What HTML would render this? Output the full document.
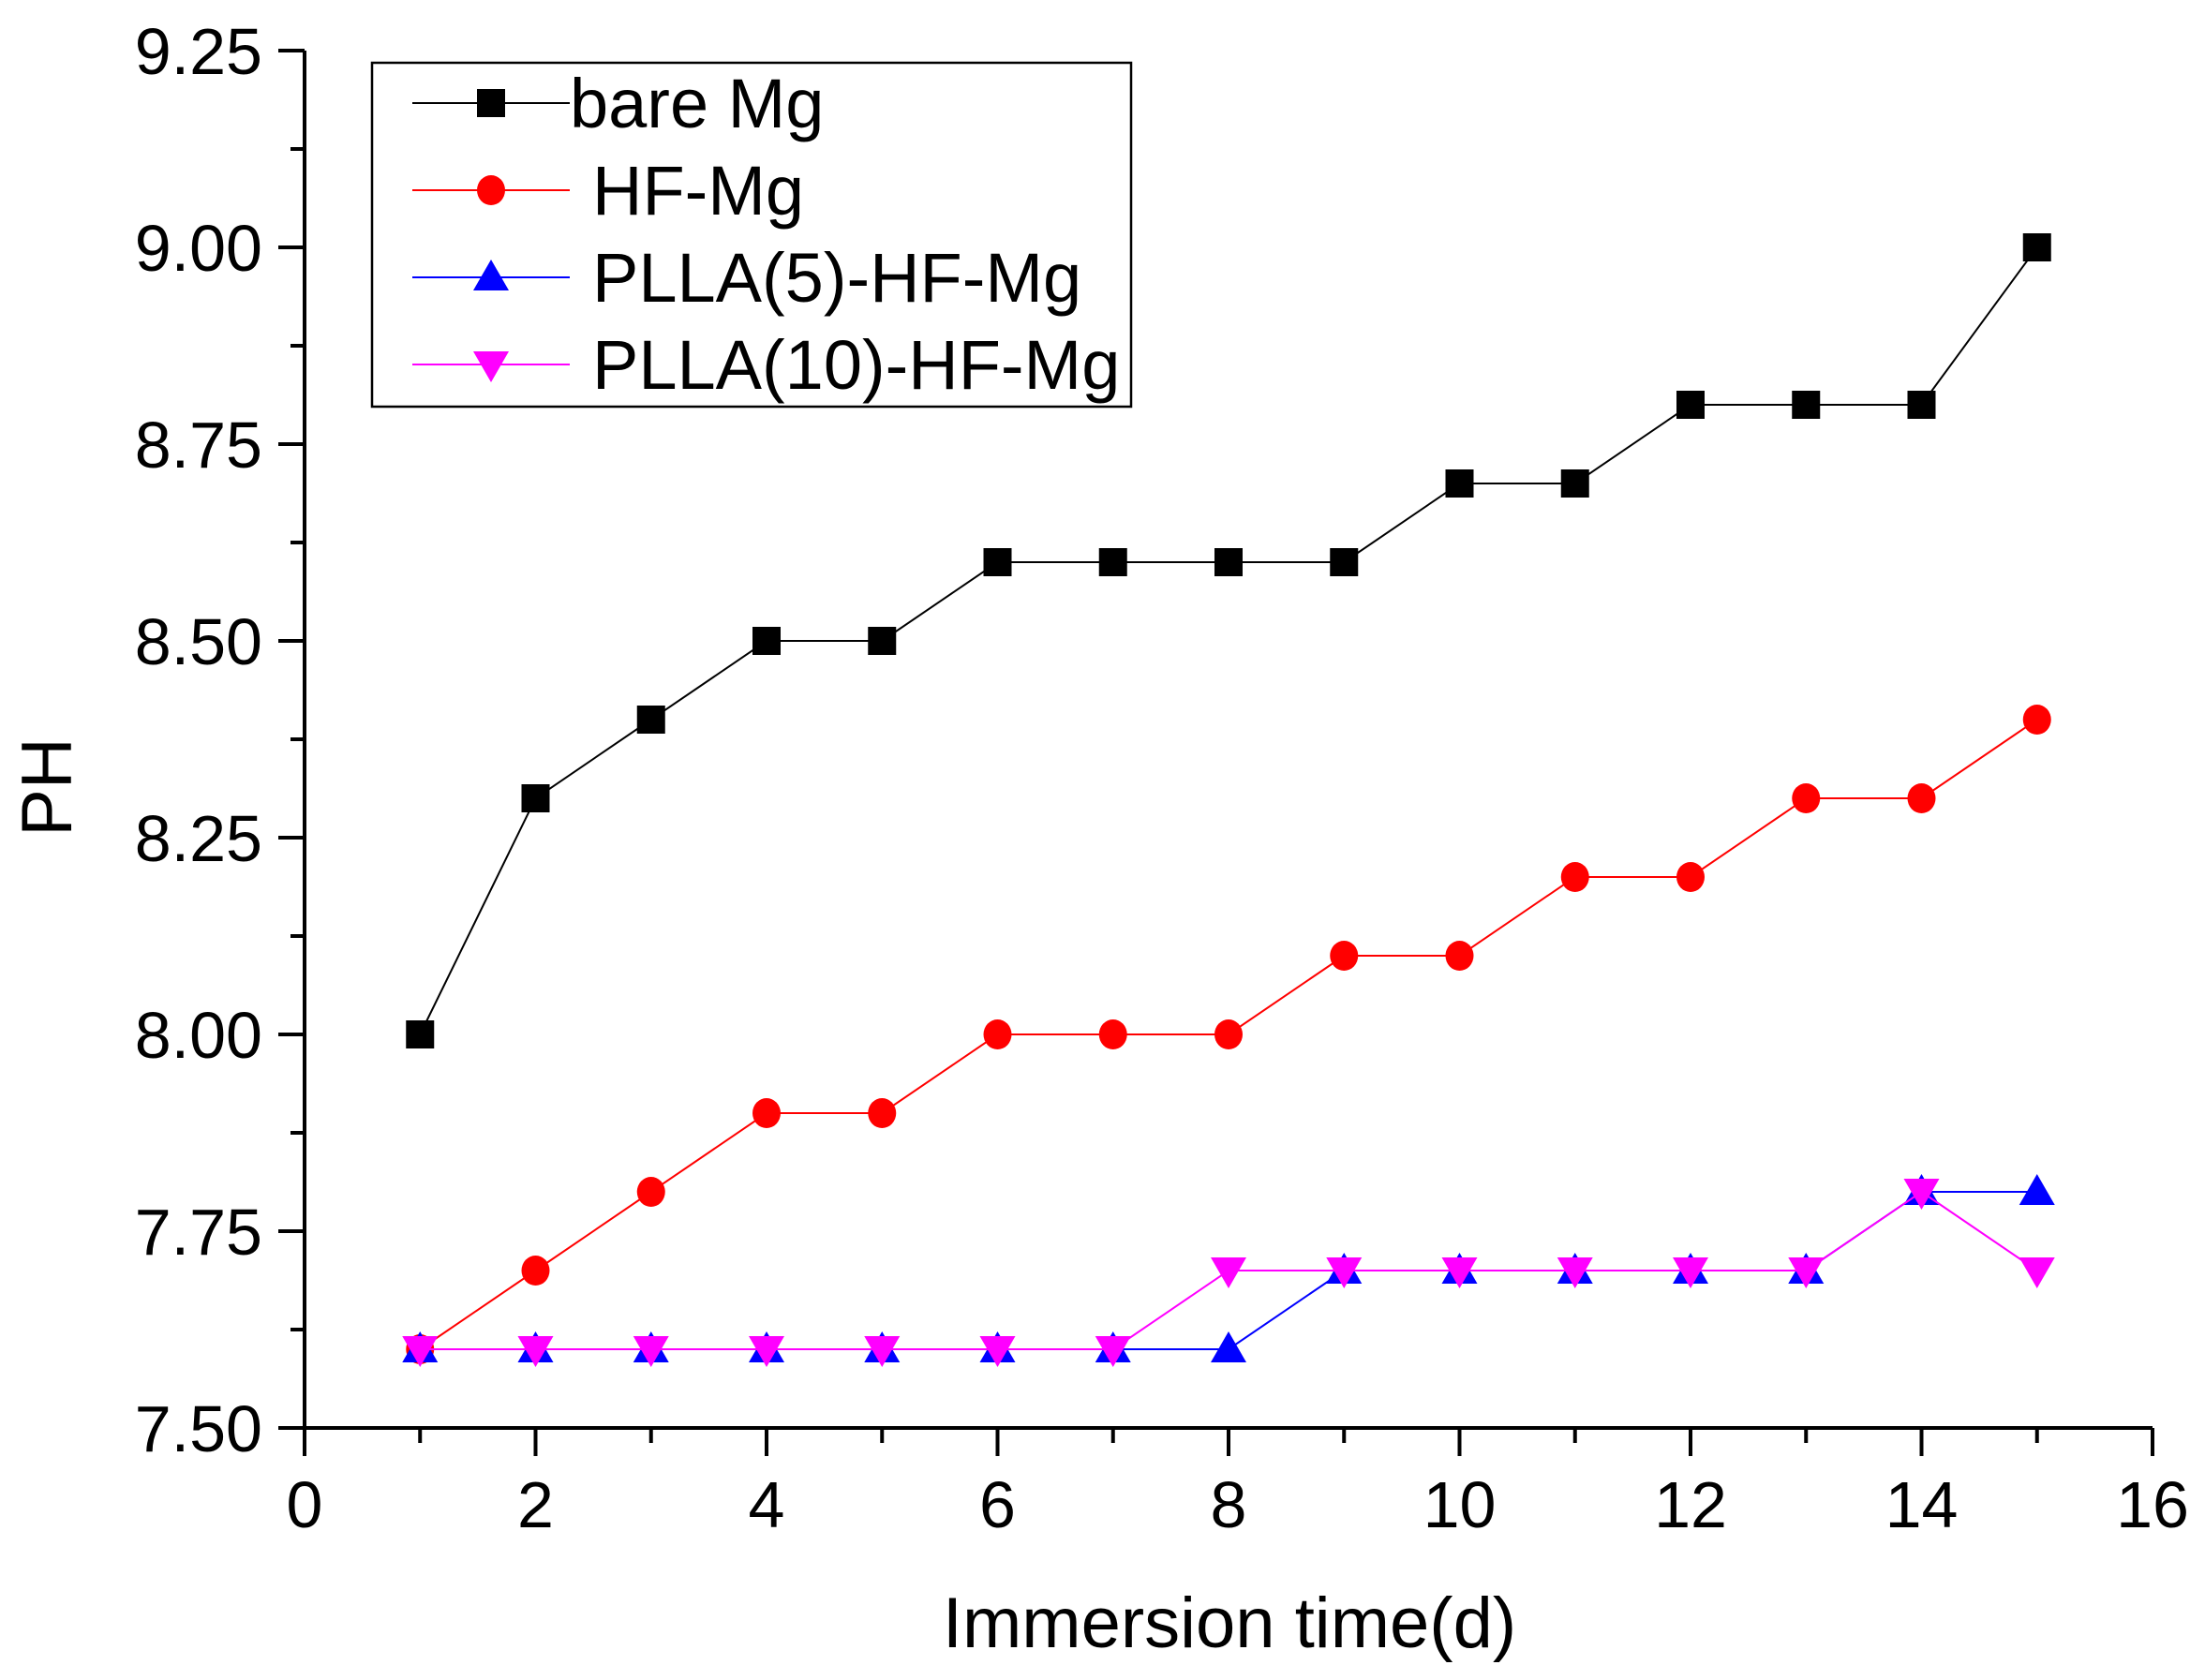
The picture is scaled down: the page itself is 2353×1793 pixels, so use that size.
<!DOCTYPE html>
<html><head><meta charset="utf-8"><style>
html,body{margin:0;padding:0;background:#fff;}
svg{display:block;font-family:"Liberation Sans",Arial,sans-serif;}
</style></head><body>
<svg id="chart" width="2353" height="1793" viewBox="0 0 2353 1793" xmlns="http://www.w3.org/2000/svg">
<rect width="2353" height="1793" fill="#fff"/>
<g id="axes"></g>
<g id="series"></g>
<g id="legend">
<rect x="397" y="67" width="810" height="367" fill="#fff" stroke="#000" stroke-width="2.5"/>
</g>
<text x="0" y="0" transform="translate(76,840) rotate(-90)" text-anchor="middle" font-size="76">PH</text>
<text x="1312" y="1758" text-anchor="middle" font-size="76">Immersion time(d)</text>
</svg>
<script>
const days = [1,2,3,4,5,6,7,8,9,10,11,12,13,14,15];
const bareMg = [8.0,8.3,8.4,8.5,8.5,8.6,8.6,8.6,8.6,8.7,8.7,8.8,8.8,8.8,9.0];
const hfMg = [7.6,7.7,7.8,7.9,7.9,8.0,8.0,8.0,8.1,8.1,8.2,8.2,8.3,8.3,8.4];
const plla5 = [7.6,7.6,7.6,7.6,7.6,7.6,7.6,7.6,7.7,7.7,7.7,7.7,7.7,7.8,7.8];
const plla10 = [7.6,7.6,7.6,7.6,7.6,7.6,7.6,7.7,7.7,7.7,7.7,7.7,7.7,7.8,7.7];
const xTicks = [0,2,4,6,8,10,12,14,16];
const yTicks = [7.50,7.75,8.00,8.25,8.50,8.75,9.00,9.25];
const seriesNames = ["bare Mg","HF-Mg","PLLA(5)-HF-Mg","PLLA(10)-HF-Mg"];

const NS="http://www.w3.org/2000/svg";
const X0=325,X1=2297,Y0=1524,Y1=54;
const xs=v=>X0+(v-0)/16*(X1-X0);
const ys=v=>Y0-(v-7.5)/1.75*(Y0-Y1);
function mk(tag,attrs,parent){const e=document.createElementNS(NS,tag);for(const k in attrs)e.setAttribute(k,attrs[k]);parent.appendChild(e);return e;}
const axes=document.getElementById('axes');
let a=mk('line',{x1:X0,y1:Y0,x2:X1,y2:Y0,stroke:'#000','stroke-width':4},axes);


a=mk('line',{x1:X0,y1:Y0+2,x2:X0,y2:Y1,stroke:'#000','stroke-width':4},axes);


xTicks.forEach(v=>{
  const t=mk('line',{x1:xs(v),y1:Y0,x2:xs(v),y2:Y0+30,stroke:'#000','stroke-width':4},axes);
  
  
  if(v<16){const m=mk('line',{x1:xs(v+1),y1:Y0,x2:xs(v+1),y2:Y0+16,stroke:'#000','stroke-width':4},axes);
  
  }
  const l=mk('text',{x:xs(v),y:1630,'text-anchor':'middle','font-size':70},axes);
  l.textContent=v;
  
  
});
yTicks.forEach(v=>{
  const t=mk('line',{x1:X0-28,y1:ys(v),x2:X0,y2:ys(v),stroke:'#000','stroke-width':4},axes);
  
  
  if(v<9.25){const m=mk('line',{x1:X0-15,y1:ys(v+0.125),x2:X0,y2:ys(v+0.125),stroke:'#000','stroke-width':4},axes);
  
  }
  const l=mk('text',{x:280,y:ys(v)+25,'text-anchor':'end','font-size':70},axes);
  l.textContent=v.toFixed(2);
  
  
});
function marker(type,cx,cy,color,parent){
  let e;
  if(type==='square')e=mk('rect',{x:cx-15,y:cy-15,width:30,height:30,fill:color},parent);
  else if(type==='circle')e=mk('ellipse',{cx:cx,cy:cy,rx:15,ry:16,fill:color},parent);
  else if(type==='up')e=mk('polygon',{points:`${cx},${cy-19} ${cx+19},${cy+14} ${cx-19},${cy+14}`,fill:color},parent);
  else e=mk('polygon',{points:`${cx-19},${cy-14} ${cx+19},${cy-14} ${cx},${cy+19}`,fill:color},parent);
  return e;
}
const sData=[bareMg,hfMg,plla5,plla10];
const colors=['#000','#ff0000','#0000ff','#ff00ff'];
const types=['square','circle','up','down'];
const sg=document.getElementById('series');
sData.forEach((vals,i)=>{
  const g=mk('g',{},sg);
  
  
  const pl=mk('polyline',{points:vals.map((v,j)=>xs(days[j])+','+ys(v)).join(' '),fill:'none',stroke:colors[i],'stroke-width':2},g);
  
  
  vals.forEach((v,j)=>{
    const m=marker(types[i],xs(days[j]),ys(v),colors[i],g);
    
    
  });
});
const lg=document.getElementById('legend');
const rowY=[110,203,296,389];
const textX=[608,632,632,632];
seriesNames.forEach((n,i)=>{
  const g=mk('g',{},lg);
  
  
  mk('line',{x1:440,y1:rowY[i],x2:608,y2:rowY[i],stroke:colors[i],'stroke-width':2},g);
  marker(types[i],524,rowY[i],colors[i],g);
  const t=mk('text',{x:textX[i],y:rowY[i]+26,'font-size':74},g);
  t.textContent=n;
  
  
});
</script>
</body></html>
